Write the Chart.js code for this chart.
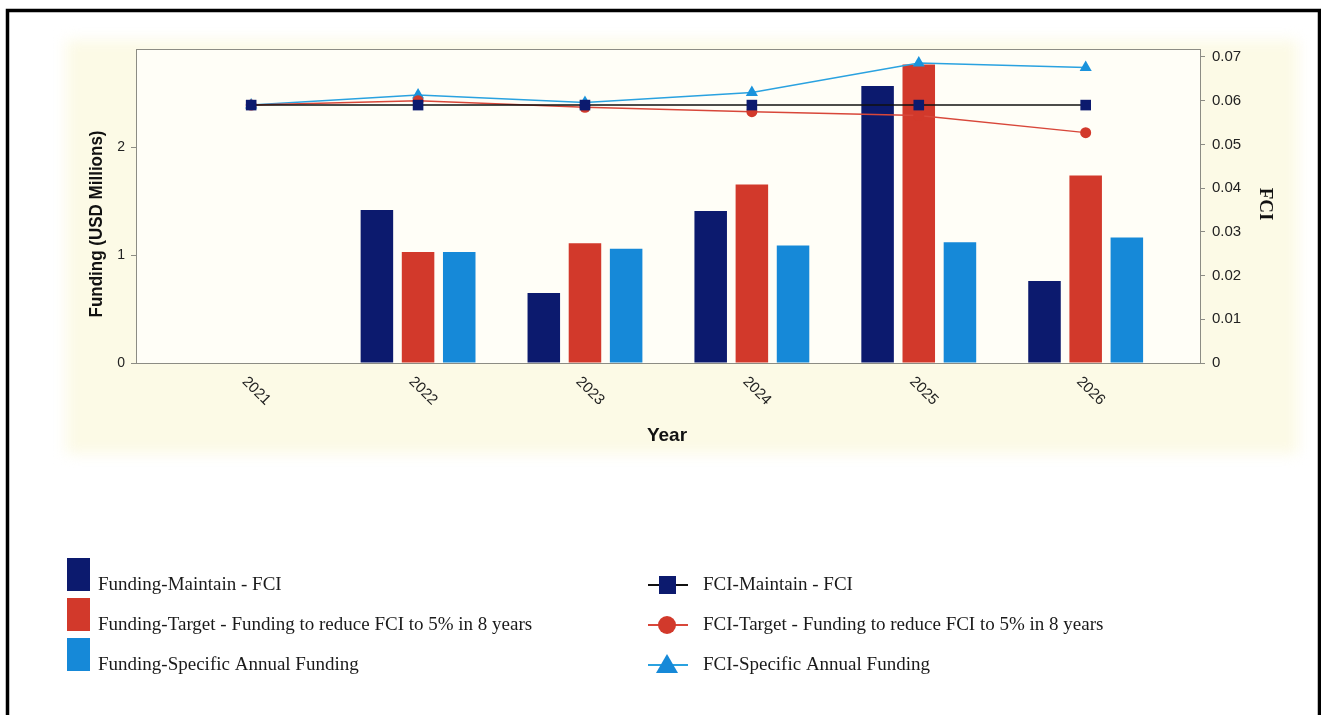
<!DOCTYPE html>
<html>
<head>
<meta charset="utf-8">
<script src="https://cdn.jsdelivr.net/npm/chart.js@4.4.1/dist/chart.umd.min.js"></script>
<style>
  html, body { margin: 0; padding: 0; background: #fff; overflow: hidden; }
  #wrap { position: relative; width: 1321px; height: 715px; }
</style>
</head>
<body>
<div id="wrap"><canvas id="chart" width="1321" height="715"></canvas></div>
<script>
// Years on the category axis
const years = ['2021', '2022', '2023', '2024', '2025', '2026'];

// Funding per scenario (USD millions)
const fundingMaintain = [0, 1.42, 0.65, 1.41, 2.57, 0.76];
const fundingTarget   = [0, 1.03, 1.11, 1.655, 2.77, 1.74];
const fundingSpecific = [0, 1.03, 1.06, 1.09, 1.12, 1.165];

// Facility condition index per scenario
const fciMaintain = [0.059, 0.059, 0.059, 0.059, 0.059, 0.059];
const fciTarget   = [0.059, 0.0600, 0.0585, 0.0575, 0.0566, 0.0527];
const fciSpecific = [0.059, 0.0613, 0.0596, 0.0619, 0.0686, 0.0676];

// Axis ticks
const fundingTicks = [0, 1, 2];
const fciTicks = [0, 0.01, 0.02, 0.03, 0.04, 0.05, 0.06, 0.07];

// Series names
const barNames = [
  'Funding-Maintain - FCI',
  'Funding-Target - Funding to reduce FCI to 5% in 8 years',
  'Funding-Specific Annual Funding'
];
const lineNames = [
  'FCI-Maintain - FCI',
  'FCI-Target - Funding to reduce FCI to 5% in 8 years',
  'FCI-Specific Annual Funding'
];

const NAVY = '#0c1a6e', RED = '#d2392b', BLUE = '#1689d8';
const SANS = "'Liberation Sans', Arial, sans-serif";
const SERIF = "'Liberation Serif', 'Times New Roman', serif";

const pts = arr => arr.map((v, i) => ({ x: i, y: v }));

const barCommon = { yAxisID: 'y', order: 2, barPercentage: 0.79, categoryPercentage: 0.74, borderWidth: 0 };
const lineCommon = { type: 'line', yAxisID: 'y2', order: 0, borderWidth: 1.5, tension: 0, fill: false };

// Page, panel and plot backgrounds
const backdrop = {
  id: 'backdrop',
  beforeDraw(chart) {
    const { ctx, chartArea: a } = chart;
    ctx.save();
    ctx.fillStyle = '#ffffff';
    ctx.fillRect(0, 0, chart.width, chart.height);
    ctx.filter = 'blur(7px)';
    ctx.fillStyle = '#fcfae6';
    ctx.fillRect(66, 40, 1232, 414);
    ctx.filter = 'none';
    ctx.fillStyle = '#fffef7';
    ctx.fillRect(a.left, a.top, a.right - a.left, a.bottom - a.top);
    // outer black frame
    ctx.strokeStyle = '#000';
    ctx.lineWidth = 3.5;
    ctx.beginPath();
    ctx.moveTo(7.5, 720);
    ctx.lineTo(7.5, 10.5);
    ctx.lineTo(1319.5, 10.5);
    ctx.lineTo(1319.5, 720);
    ctx.stroke();
    ctx.restore();
  }
};

// Plot frame, slanted year labels, axis titles and the legend
const overlay = {
  id: 'overlay',
  afterDraw(chart) {
    const { ctx, chartArea: a } = chart;
    const xs = chart.scales.x;
    ctx.save();
    ctx.strokeStyle = '#8c8c84';
    ctx.lineWidth = 1;
    ctx.strokeRect(Math.round(a.left) + 0.5, Math.round(a.top) + 0.5,
                   Math.round(a.right - a.left), Math.round(a.bottom - a.top));

    // year labels, slanted downward
    ctx.fillStyle = '#222';
    ctx.font = '15px ' + SANS;
    ctx.textAlign = 'center';
    ctx.textBaseline = 'middle';
    years.forEach((y, i) => {
      const px = xs.getPixelForValue(i);
      ctx.save();
      ctx.translate(px + 5, a.bottom + 28);
      ctx.rotate(Math.PI / 4);
      ctx.fillText(y, 0, 0);
      ctx.restore();
    });

    // axis titles
    ctx.fillStyle = '#111';
    ctx.font = 'bold 19px ' + SANS;
    ctx.fillText('Year', 667, 436);

    ctx.save();
    ctx.translate(97, 224);
    ctx.rotate(-Math.PI / 2);
    ctx.font = 'bold 18px ' + SANS;
    const t = 'Funding (USD Millions)';
    ctx.scale(187 / ctx.measureText(t).width, 1);
    ctx.fillText(t, 0, 0);
    ctx.restore();

    ctx.save();
    ctx.translate(1265, 204);
    ctx.rotate(Math.PI / 2);
    ctx.font = 'bold 19px ' + SERIF;
    ctx.fillText('FCI', 0, 0);
    ctx.restore();

    // legend
    const baselines = [590, 630, 670];
    const barColors = [NAVY, RED, BLUE];
    ctx.font = '19px ' + SERIF;
    ctx.textAlign = 'left';
    ctx.textBaseline = 'alphabetic';
    barNames.forEach((n, i) => {
      ctx.fillStyle = barColors[i];
      ctx.fillRect(67, baselines[i] - 32, 23, 33);
      ctx.fillStyle = '#1a1a1a';
      ctx.fillText(n, 98, baselines[i]);
    });

    const lineColors = ['#111', '#d8473a', '#2aa2e0'];
    lineNames.forEach((n, i) => {
      const cy = baselines[i] - 5;
      ctx.strokeStyle = lineColors[i];
      ctx.lineWidth = 2;
      ctx.beginPath();
      ctx.moveTo(648, cy);
      ctx.lineTo(688, cy);
      ctx.stroke();
      ctx.fillStyle = barColors[i];
      ctx.beginPath();
      if (i === 0) {
        ctx.rect(659, cy - 9, 17, 18);
      } else if (i === 1) {
        ctx.arc(667, cy, 9, 0, Math.PI * 2);
      } else {
        ctx.moveTo(667, cy - 11);
        ctx.lineTo(678, cy + 8);
        ctx.lineTo(656, cy + 8);
        ctx.closePath();
      }
      ctx.fill();
      ctx.fillStyle = '#1a1a1a';
      ctx.fillText(n, 703, baselines[i]);
    });
    ctx.restore();
  }
};

new Chart(document.getElementById('chart'), {
  type: 'bar',
  data: {
    datasets: [
      { ...barCommon, label: barNames[0], data: pts(fundingMaintain), backgroundColor: NAVY },
      { ...barCommon, label: barNames[1], data: pts(fundingTarget), backgroundColor: RED },
      { ...barCommon, label: barNames[2], data: pts(fundingSpecific), backgroundColor: BLUE },
      { ...lineCommon, label: lineNames[0], data: pts(fciMaintain), borderColor: '#111',
        pointStyle: 'rect', pointRadius: 7.5, pointBackgroundColor: NAVY, pointBorderColor: NAVY, pointBorderWidth: 0 },
      { ...lineCommon, label: lineNames[1], data: pts(fciTarget), borderColor: '#d8473a',
        pointStyle: 'circle', pointRadius: 5.5, pointBackgroundColor: RED, pointBorderColor: RED, pointBorderWidth: 0 },
      { ...lineCommon, label: lineNames[2], data: pts(fciSpecific), borderColor: '#2aa2e0',
        pointStyle: 'triangle', pointRadius: 7, pointBackgroundColor: '#1a93dc', pointBorderColor: '#1a93dc', pointBorderWidth: 0 }
    ]
  },
  options: {
    responsive: false,
    animation: false,
    devicePixelRatio: 1,
    layout: { padding: { top: 49, left: 0, right: 0, bottom: 0 } },
    plugins: { legend: { display: false }, tooltip: { enabled: false } },
    scales: {
      x: {
        type: 'linear', min: -0.69, max: 5.685, offset: false,
        afterBuildTicks(s) { s.ticks = years.map((_, i) => ({ value: i })); },
        ticks: { display: false }, grid: { display: false }, border: { display: false },
        afterFit(s) { s.height = 715 - 363; }
      },
      y: {
        position: 'left', min: 0, max: 2.913,
        afterBuildTicks(s) { s.ticks = fundingTicks.map(v => ({ value: v })); },
        ticks: { color: '#222', font: { family: SANS, size: 14 }, padding: 6 },
        grid: { drawOnChartArea: false, drawTicks: true, tickLength: 5, color: '#8c8c84' },
        border: { display: true, color: '#8c8c84' },
        afterFit(s) { s.width = 136; }
      },
      y2: {
        position: 'right', min: 0, max: 0.07183,
        afterBuildTicks(s) { s.ticks = fciTicks.map(v => ({ value: v })); },
        ticks: { color: '#222', font: { family: SANS, size: 15 }, padding: 7,
                 callback: v => v === 0 ? '0' : v.toFixed(2) },
        grid: { drawOnChartArea: false, drawTicks: true, tickLength: 5, color: '#8c8c84' },
        border: { display: true, color: '#8c8c84' },
        afterFit(s) { s.width = 121; }
      }
    }
  },
  plugins: [backdrop, overlay]
});
</script>
</body>
</html>
